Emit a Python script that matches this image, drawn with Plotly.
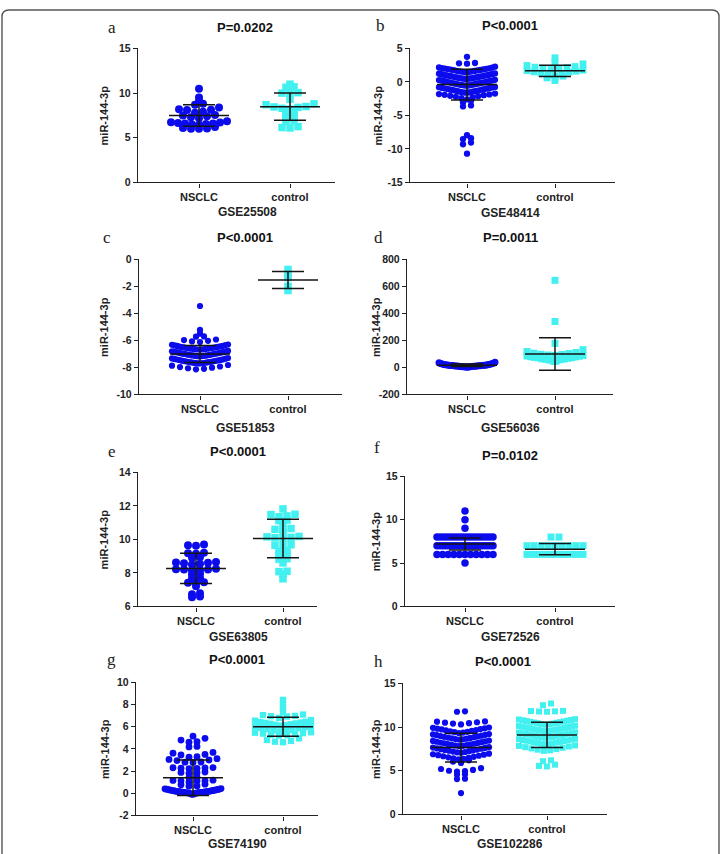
import plotly.graph_objects as go

W, H = 721, 854

# ---------------- data ----------------
categories = ["NSCLC", "control"]
panel_letters = ["a", "b", "c", "d", "e", "f", "g", "h"]
p_values = ["P=0.0202", "P<0.0001", "P<0.0001", "P=0.0011",
            "P<0.0001", "P=0.0102", "P<0.0001", "P<0.0001"]
datasets = ["GSE25508", "GSE48414", "GSE51853", "GSE56036",
            "GSE63805", "GSE72526", "GSE74190", "GSE102286"]
y_title = "miR-144-3p"

y_ticks = [[0, 5, 10, 15], [-15, -10, -5, 0, 5], [-10, -8, -6, -4, -2, 0],
           [-200, 0, 200, 400, 600, 800], [6, 8, 10, 12, 14], [0, 5, 10, 15],
           [-2, 0, 2, 4, 6, 8, 10], [0, 5, 10, 15]]

a_nsclc = [10.5, 9.5, 9.1, 8.8, 8.7, 8.4, 8.2, 8.15, 8.1, 7.9, 7.8, 7.55, 7.5, 7.4,
           7.3, 7.2, 6.85, 6.75, 6.7, 6.65, 6.6, 6.6, 6.55, 6.5, 6.45, 6.2, 6.1,
           6.05, 6.0, 6.0]
a_control = [11.0, 10.7, 10.65, 10.4, 10.05, 10.0, 9.9, 9.3, 8.8, 8.7, 8.5, 8.45,
             8.4, 8.3, 8.2, 8.1, 8.05, 7.8, 7.6, 7.3, 7.25, 6.9, 6.8, 6.25, 6.15, 6.1]

b_nsclc = [3.75, 2.82, 2.78, 2.72,
           2.28, 2.15, 2.12, 2.07, 2.03, 1.99, 1.96, 1.91, 1.87, 1.84, 1.79, 1.75,
           1.72, 1.66, 1.63, 1.58, 1.55, 1.51, 1.48, 1.46,
           1.26, 1.23, 1.19, 1.15, 1.13, 1.08, 1.05, 1.02, 0.97, 0.95, 0.91, 0.88,
           0.83, 0.8, 0.77, 0.72, 0.7, 0.66, 0.63, 0.6, 0.56, 0.54, 0.51, 0.49, 0.47, 0.44,
           0.31, 0.28, 0.24, 0.21, 0.16, 0.14, 0.09, 0.06, 0.02, -0.02, -0.07, -0.09,
           -0.14, -0.17, -0.2, -0.25, -0.27, -0.32, -0.34, -0.39, -0.41, -0.45, -0.48,
           -0.51, -0.53, -0.55,
           -0.74, -0.79, -0.82, -0.87, -0.9, -0.96, -0.98, -1.03, -1.07, -1.13, -1.16,
           -1.2, -1.25, -1.29, -1.35, -1.38, -1.42, -1.48, -1.51, -1.55, -1.58, -1.6,
           -1.74, -1.81, -1.86, -1.93, -1.98, -2.07, -2.12, -2.22, -2.31, -2.43, -2.6,
           -2.8, -3.02, -3.5, -3.66,
           -7.95, -8.4, -8.52, -9.05, -9.3, -10.7]
b_control = [3.6, 3.0, 2.7, 2.45, 2.3, 2.2, 2.15, 2.05, 1.95, 1.85, 1.75, 1.7, 1.6,
             1.5, 1.45, 1.3, 1.2, 1.05, 0.9, 0.85, 0.6, 0.5, 0.2]

c_nsclc = [-3.45, -5.22, -5.5, -5.7, -5.72, -5.93, -5.97, -6.03, -6.07, -6.12,
           -6.3, -6.32, -6.34, -6.37, -6.4, -6.41, -6.44, -6.46, -6.47, -6.5, -6.51,
           -6.53, -6.55, -6.56, -6.58, -6.6, -6.61, -6.62, -6.64, -6.65, -6.66, -6.67, -6.68,
           -6.78, -6.8, -6.81, -6.84, -6.85, -6.87, -6.89, -6.9, -6.92, -6.94, -6.95,
           -6.97, -6.98, -7.0, -7.01, -7.03, -7.04, -7.06, -7.07, -7.09, -7.1, -7.11,
           -7.13, -7.14, -7.15, -7.16, -7.17, -7.18,
           -7.3, -7.33, -7.35, -7.37, -7.4, -7.41, -7.44, -7.45, -7.47, -7.5, -7.51,
           -7.53, -7.55, -7.56, -7.58, -7.6, -7.61, -7.63, -7.64, -7.66, -7.67, -7.68,
           -7.69, -7.7,
           -7.82, -7.87, -7.93, -7.97, -8.02, -8.06, -8.1, -8.14]
c_control = [-0.75, -1.2, -1.35, -2.0, -2.3]

d_nsclc = [2, 3, 4, 5, 5, 6, 7, 7, 8, 9, 9, 10, 11, 11, 12, 12, 13, 14, 14, 15, 16,
           16, 17, 18, 19, 20, 21, 22, 24, 25, 27, 29, 31, 35, 38]
d_control = [645, 340, 178, 132, 118, 111, 105, 103, 97, 96, 92, 89, 88, 85, 83, 79,
             78, 75, 72, 71, 68, 64, 63, 60, 58, 55, 51, 47, 44]

e_nsclc = [9.7, 9.65, 9.62, 9.2, 9.18, 9.15, 8.95, 8.9, 8.65, 8.62, 8.6, 8.58, 8.55,
           8.5, 8.25, 8.22, 8.2, 8.2, 8.18, 8.15, 7.95, 7.9, 7.7, 7.65, 7.45, 7.42,
           7.38, 7.2, 6.78, 6.72, 6.6, 6.55]
e_control = [11.82, 11.5, 11.48, 11.4, 11.35, 11.15, 11.12, 11.0, 10.65, 10.6, 10.58,
             10.45, 10.18, 10.15, 10.12, 10.1, 10.05, 9.68, 9.65, 9.62, 9.32, 9.28, 9.1,
             9.08, 8.85, 8.82, 8.6, 8.1, 8.08, 7.9, 7.65]

f_nsclc = [11, 10, 9,
           8, 8, 8, 8, 8, 8, 8, 8, 8, 8, 8, 8, 8, 8, 8, 8, 8, 8,
           7, 7, 7, 7, 7, 7, 7, 7, 7, 7, 7, 7, 7, 7, 7, 7, 7, 7, 7, 7,
           6, 6, 6, 6, 6, 6, 6, 6, 6, 6, 6, 5]
f_control = [8, 8, 7, 7, 7, 7, 7, 7, 7, 7, 7, 6, 6, 6, 6, 6, 6, 6, 6, 6, 6]

g_nsclc = [5.15, 4.95, 4.8, 4.65, 4.6, 4.22, 4.18, 3.68, 3.62, 3.5, 3.45, 3.3, 3.25,
           3.12, 3.05, 3.0, 2.95, 2.82, 2.8, 2.78, 2.32, 2.3, 2.28, 2.26, 2.25, 2.22,
           1.92, 1.88, 1.85, 1.8, 1.45, 1.4, 1.18, 1.16, 1.14, 1.12, 1.1, 1.0, 0.82,
           0.78, 0.66, 0.64,
           0.42, 0.4, 0.38, 0.37, 0.35, 0.33, 0.31, 0.3, 0.28, 0.27, 0.25, 0.24, 0.22,
           0.21, 0.2, 0.18, 0.17, 0.16, 0.15, 0.14, 0.13, 0.12, 0.11, 0.1, 0.09, 0.08,
           0.07, 0.06, 0.05, 0.04, 0.03, 0.02, 0.0, -0.03, -0.06, -0.1]
g_control = [8.42, 8.05, 7.58, 7.3, 7.1, 7.05, 6.98, 6.95, 6.92, 6.8, 6.6, 6.55, 6.45,
             6.42, 6.38, 6.35, 6.3, 6.27, 6.22, 6.18, 6.13, 6.1, 6.05, 6.0, 5.96, 5.9,
             5.86, 5.8, 5.7, 5.66, 5.6, 5.55, 5.5, 5.46, 5.42, 5.38, 5.32, 5.28, 5.24,
             5.2, 4.95, 4.8, 4.72, 4.65, 4.6]

h_nsclc = [11.8, 11.75, 10.65, 10.62, 10.55, 10.5, 10.45, 10.4, 10.3,
           9.95, 9.91, 9.86, 9.82, 9.77, 9.73, 9.66, 9.61, 9.56, 9.5, 9.46, 9.41, 9.37, 9.32,
           9.2, 9.16, 9.11, 9.07, 9.02, 8.98, 8.93, 8.88, 8.84, 8.8, 8.76, 8.71, 8.67,
           8.63, 8.6, 8.57,
           8.45, 8.41, 8.36, 8.32, 8.27, 8.22, 8.18, 8.14, 8.09, 8.05, 8.01, 7.97, 7.93,
           7.89, 7.85, 7.82,
           7.7, 7.65, 7.61, 7.56, 7.52, 7.47, 7.43, 7.38, 7.33, 7.29, 7.24, 7.2, 7.15,
           7.11, 7.07,
           6.95, 6.89, 6.84, 6.78, 6.72, 6.66, 6.6, 6.54, 6.48, 6.42, 6.37, 6.32,
           6.2, 6.05, 5.9,
           5.3, 5.2, 5.1, 5.0, 4.95, 4.9, 4.6, 4.55, 4.1, 4.05, 2.45]
h_control = [12.7, 12.5, 11.85, 11.83, 11.8, 11.78, 11.75,
             10.9, 10.86, 10.82, 10.78, 10.73, 10.69, 10.65, 10.6, 10.56, 10.52, 10.48,
             10.44, 10.39, 10.35, 10.31, 10.27,
             10.15, 10.11, 10.08, 10.04, 10.0, 9.96, 9.92, 9.88, 9.84, 9.8, 9.76, 9.72,
             9.68, 9.65, 9.61, 9.58, 9.55, 9.52,
             9.4, 9.36, 9.33, 9.29, 9.25, 9.21, 9.17, 9.13, 9.09, 9.05, 9.01, 8.97, 8.93,
             8.89, 8.86, 8.83, 8.8, 8.77,
             8.65, 8.61, 8.57, 8.52, 8.48, 8.44, 8.4, 8.35, 8.31, 8.27, 8.22, 8.18, 8.13,
             8.09, 8.05, 8.02,
             7.9, 7.84, 7.77, 7.7, 7.63, 7.56, 7.48, 7.41, 7.34, 7.27,
             6.2, 6.1, 5.7, 5.55, 5.5]

nsclc_values = [a_nsclc, b_nsclc, c_nsclc, d_nsclc, e_nsclc, f_nsclc, g_nsclc, h_nsclc]
control_values = [a_control, b_control, c_control, d_control, e_control, f_control,
                  g_control, h_control]

mean_nsclc = [7.5, -0.4, -7.0, 16, 8.27, 7.2, 1.4, 7.65]
sd_nsclc = [1.2, 2.3, 0.63, 9, 0.9, 0.68, 1.6, 1.65]
mean_control = [8.48, 1.65, -1.52, 100, 10.05, 6.6, 6.0, 9.1]
sd_control = [1.52, 0.85, 0.63, 120, 1.15, 0.65, 0.85, 1.45]

# ---------------- layout geometry (pixels) ----------------
# left, right, NSCLC x, control x, top, bottom
geom = [(138, 335, 199, 290, 43, 179),
        (410, 615, 467, 555, 43, 179),
        (139, 342, 200, 288, 257, 394),
        (407, 613, 467, 555, 257, 394),
        (138, 317, 196, 283, 473, 609),
        (405, 615, 465, 555, 477, 609),
        (136, 318, 193, 283, 686, 821),
        (403, 607, 461, 547, 687, 820)]
letter_xy = [(112, 22), (380, 20), (107, 235), (378, 235),
             (112, 452), (377, 448), (112, 663), (378, 665)]
title_xy = [(245, 22), (510, 20), (245, 235), (510, 235),
            (238, 452), (510, 456), (237, 663), (503, 665)]
xlab_xy = [(247, 209), (510, 210), (245, 428), (510, 428),
           (238, 640), (510, 640), (237, 850), (510, 850)]
ylab_x = [104, 378, 104, 376, 104, 376, 105, 376]
circle_size = [8, 6.3, 6.2, 7, 8, 7.5, 6.8, 6.2]
square_size = [7.5, 6.8, 7.5, 7, 7.5, 7, 6.3, 6.0]

BLUE = "#0b0bec"
CYAN = "#42f0f0"
AXC = "#222222"
FONT = "Liberation Sans"


def px(x):
    return x / W


def py(y):
    return 1 - y / H


def swarm(vals, ppu, bin_px=6.0, gap_px=2.0, step_px=8.0, maxw_px=56.0):
    """Prism-like column scatter: rows of near-equal values spread sideways."""
    order = sorted(vals, reverse=True)
    groups, cur, start = [], [order[0]], order[0]
    for v in order[1:]:
        if (start - v) * ppu <= bin_px + 1e-9 and (cur[-1] - v) * ppu <= gap_px + 1e-9:
            cur.append(v)
        else:
            groups.append(cur)
            cur, start = [v], v
    groups.append(cur)
    offs, ys = [], []
    for g in groups:
        n = len(g)
        s = step_px if n == 1 else min(step_px, maxw_px / (n - 1))
        slots = [(i - (n - 1) / 2) * s for i in range(n)]
        slots.sort(key=lambda t: (abs(t), t))
        for val, off in zip(sorted(g), slots):
            offs.append(off)
            ys.append(val)
    return offs, ys


fig = go.Figure()
layout = dict(width=W, height=H, margin=dict(l=0, r=0, t=0, b=0),
              paper_bgcolor="white", plot_bgcolor="white", showlegend=False,
              annotations=[], shapes=[])

for i in range(8):
    L, R, n0, n1, T, B = geom[i]
    unit = n1 - n0
    xr = [-(n0 - L) / unit, 1 + (R - n1) / unit]
    ticks = y_ticks[i]
    ylo, yhi = ticks[0], ticks[-1]
    ppu = (B - T) / (yhi - ylo)
    sfx = "" if i == 0 else str(i + 1)

    layout["xaxis" + sfx] = dict(
        domain=[px(L), px(R)], range=xr, anchor="y" + sfx,
        tickmode="array", tickvals=[0, 1], ticktext=categories,
        showline=True, linecolor=AXC, linewidth=1.4, ticks="outside", ticklen=4,
        tickwidth=1.4, tickcolor=AXC, showgrid=False, zeroline=False,
        tickfont=dict(family=FONT, size=11, color=AXC, weight="bold"))
    layout["yaxis" + sfx] = dict(
        domain=[py(B), py(T)], range=[ylo, yhi], anchor="x" + sfx,
        tickmode="array", tickvals=ticks, ticktext=[str(t) for t in ticks],
        showline=True, linecolor=AXC, linewidth=1.4, ticks="outside", ticklen=4,
        tickwidth=1.4, tickcolor=AXC, showgrid=False, zeroline=False,
        tickfont=dict(family=FONT, size=10.5, color=AXC, weight="bold"))

    groups = [(nsclc_values[i], BLUE, "circle", circle_size[i], mean_nsclc[i], sd_nsclc[i]),
              (control_values[i], CYAN, "square", square_size[i], mean_control[i], sd_control[i])]
    for gi, (vals, col, sym, size, m, s) in enumerate(groups):
        offs, ys = swarm(vals, ppu)
        xs = [gi + o / unit for o in offs]
        fig.add_trace(go.Scatter(
            x=xs, y=ys, mode="markers", xaxis="x" + sfx, yaxis="y" + sfx,
            marker=dict(color=col, symbol=sym, size=size, line=dict(width=0)),
            cliponaxis=False, hoverinfo="skip"))
        wm, ws = 30 / unit, 16 / unit
        lx = [gi - wm, gi + wm, None, gi - ws, gi + ws, None, gi - ws, gi + ws, None, gi, gi]
        ly = [m, m, None, m + s, m + s, None, m - s, m - s, None, m - s, m + s]
        fig.add_trace(go.Scatter(
            x=lx, y=ly, mode="lines", xaxis="x" + sfx, yaxis="y" + sfx,
            line=dict(color="#151515", width=1.5), cliponaxis=False, hoverinfo="skip"))

    # texts
    lx_, ly_ = letter_xy[i]
    layout["annotations"].append(dict(
        x=px(lx_), y=py(ly_), xref="paper", yref="paper", text=panel_letters[i],
        showarrow=False, xanchor="center", yanchor="middle",
        font=dict(family="Liberation Serif", size=17, color="#222")))
    tx, ty = title_xy[i]
    layout["annotations"].append(dict(
        x=px(tx), y=py(ty), xref="paper", yref="paper", text=p_values[i],
        showarrow=False, xanchor="center", yanchor="middle",
        font=dict(family=FONT, size=13, color="#111", weight="bold")))
    gx, gy = xlab_xy[i]
    layout["annotations"].append(dict(
        x=px(gx), y=py(gy), xref="paper", yref="paper", text=datasets[i],
        showarrow=False, xanchor="center", yanchor="middle",
        font=dict(family=FONT, size=12, color="#222", weight="bold")))
    layout["annotations"].append(dict(
        x=px(ylab_x[i]), y=py((T + B) / 2), xref="paper", yref="paper", text=y_title,
        showarrow=False, xanchor="center", yanchor="middle", textangle=-90,
        font=dict(family=FONT, size=11, color="#222", weight="bold")))

# outer frame with rounded top corners
def P(x, y):
    return f"{px(x):.5f},{py(y):.5f}"

frame = (f"M {P(2, 900)} L {P(2, 11)} Q {P(2, 4)} {P(9, 4)} L {P(712, 4)} "
         f"Q {P(719, 4)} {P(719, 11)} L {P(719, 900)}")
layout["shapes"].append(dict(type="path", path=frame, xref="paper", yref="paper",
                             line=dict(color="#555555", width=1.4)))

fig.update_layout(**layout)
fig.write_html("out.html")
